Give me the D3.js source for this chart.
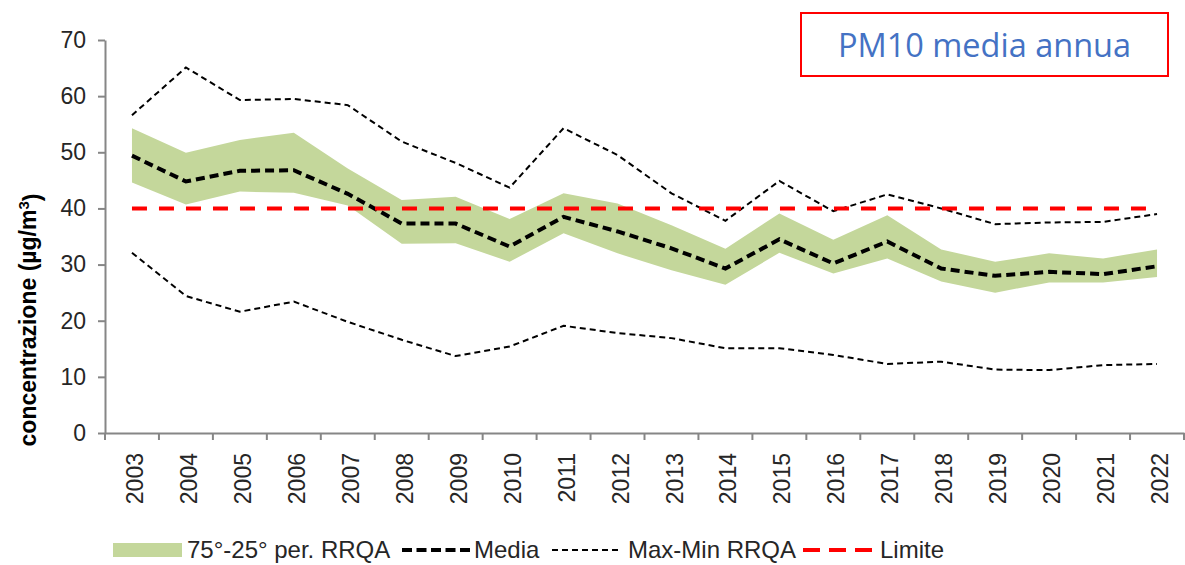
<!DOCTYPE html>
<html>
<head>
<meta charset="utf-8">
<script src="https://cdn.jsdelivr.net/npm/d3@7"></script>
<style>
  html, body { margin: 0; padding: 0; background: #fff; }
  svg { display: block; }
</style>
</head>
<body>
<svg id="chart" width="1185" height="565"></svg>
<script>
// ---- data ----
const years = ["2003","2004","2005","2006","2007","2008","2009","2010","2011","2012",
               "2013","2014","2015","2016","2017","2018","2019","2020","2021","2022"];
const maxRRQA = [56.6, 65.1, 59.3, 59.5, 58.4, 51.9, 48.1, 43.7, 54.3, 49.5,
                 42.7, 37.8, 44.9, 39.5, 42.5, 40.0, 37.2, 37.5, 37.6, 39.0];
const minRRQA = [32.1, 24.4, 21.6, 23.4, 19.8, 16.6, 13.7, 15.4, 19.1, 17.8,
                 16.9, 15.1, 15.1, 13.9, 12.3, 12.7, 11.3, 11.2, 12.1, 12.3];
const p75 = [54.3, 49.9, 52.2, 53.5, 47.1, 41.5, 42.1, 38.1, 42.7, 40.9,
             37.0, 32.8, 39.1, 34.4, 38.8, 32.7, 30.5, 32.0, 31.1, 32.7];
const media = [49.4, 44.8, 46.7, 46.8, 42.6, 37.3, 37.3, 33.2, 38.5, 35.9,
               32.9, 29.3, 34.5, 30.2, 34.1, 29.3, 28.0, 28.7, 28.3, 29.7];
const p25 = [44.6, 40.7, 43.0, 42.8, 40.5, 33.7, 33.8, 30.5, 35.6, 32.0,
             29.0, 26.4, 32.1, 28.4, 31.1, 27.0, 25.0, 26.8, 26.8, 27.8];
const limite = 40;
const yTicks = [0, 10, 20, 30, 40, 50, 60, 70];
const titleText = "PM10 media annua";
const yLabel = "concentrazione (µg/m";
const legendLabels = ["75°-25° per. RRQA", "Media", "Max-Min RRQA", "Limite"];

// ---- layout ----
const svg = d3.select("#chart");
const plotL = 105, plotR = 1184, plotT = 40, plotB = 433;
const axisColor = "#868686";
const textColor = "#262626";

const x = d3.scaleBand().domain(years).range([plotL, plotR]).padding(0);
const cx = d => x(d) + x.bandwidth() / 2;
const y = d3.scaleLinear().domain([0, 70]).range([plotB, plotT]);

const rows = years.map((yr, i) => ({yr, max: maxRRQA[i], min: minRRQA[i], p75: p75[i], p25: p25[i], media: media[i]}));

// band
svg.append("path")
  .datum(rows)
  .attr("d", d3.area().x(d => cx(d.yr)).y0(d => y(d.p25)).y1(d => y(d.p75)))
  .attr("fill", "#C4D79B");

// y axis
const yAxis = svg.append("g")
  .attr("transform", `translate(${plotL},0)`)
  .call(d3.axisLeft(y).tickValues(yTicks).tickSize(7).tickSizeOuter(0).tickPadding(12));
yAxis.select(".domain").attr("stroke", axisColor).attr("stroke-width", 2);
yAxis.selectAll(".tick line").attr("stroke", axisColor).attr("stroke-width", 2);
yAxis.selectAll(".tick text")
  .attr("fill", textColor)
  .style("font-family", "'Liberation Sans', Arial, sans-serif")
  .style("font-size", "23px");

// x axis
const xAxis = svg.append("g")
  .attr("transform", `translate(0,${plotB})`)
  .call(d3.axisBottom(x).tickSize(0).tickSizeOuter(0).tickPadding(0));
xAxis.select(".domain").attr("stroke", axisColor).attr("stroke-width", 2);
xAxis.selectAll(".tick text")
  .attr("fill", textColor)
  .style("font-family", "'Liberation Sans', Arial, sans-serif")
  .style("font-size", "23px")
  .attr("text-anchor", "end")
  .attr("transform", "translate(3,20) rotate(-90)")
  .attr("x", 0).attr("y", 0).attr("dy", "0.35em");
// boundary tick marks
const bounds = years.map(d => x(d)).concat([x.range()[1]]);
xAxis.selectAll("line.bnd").data(bounds).enter().append("line")
  .attr("class", "bnd")
  .attr("x1", d => d).attr("x2", d => d)
  .attr("y1", 0).attr("y2", 7)
  .attr("stroke", axisColor).attr("stroke-width", 2);

// lines
const lineOf = key => d3.line().x(d => cx(d.yr)).y(d => y(d[key]));
svg.append("path").datum(rows).attr("d", lineOf("max"))
  .attr("fill", "none").attr("stroke", "#000").attr("stroke-width", 2).attr("stroke-dasharray", "6,4");
svg.append("path").datum(rows).attr("d", lineOf("min"))
  .attr("fill", "none").attr("stroke", "#000").attr("stroke-width", 2).attr("stroke-dasharray", "6,4");
svg.append("path").datum(rows).attr("d", lineOf("media"))
  .attr("fill", "none").attr("stroke", "#000").attr("stroke-width", 4).attr("stroke-dasharray", "9,5");
svg.append("line")
  .attr("x1", cx(years[0])).attr("x2", cx(years[years.length - 1]))
  .attr("y1", y(limite)).attr("y2", y(limite))
  .attr("stroke", "#FF0000").attr("stroke-width", 4).attr("stroke-dasharray", "15,12");

// y label
const yl = svg.append("text")
  .attr("transform", "translate(36,320) rotate(-90)")
  .attr("text-anchor", "middle")
  .attr("fill", "#000")
  .style("font-family", "'Liberation Sans', Arial, sans-serif")
  .style("font-size", "23px")
  .style("font-weight", "bold");
yl.append("tspan").text(yLabel);
yl.append("tspan").attr("dy", "-0.5em").style("font-size", "15px").text("3");
yl.append("tspan").attr("dy", "0.5em").text(")");

// title box
svg.append("rect").attr("x", 801).attr("y", 13).attr("width", 367).attr("height", 63)
  .attr("fill", "#fff").attr("stroke", "#FF0000").attr("stroke-width", 2);
svg.append("text").attr("x", 984.5).attr("y", 57).attr("text-anchor", "middle")
  .attr("fill", "#4472C4")
  .style("font-family", "'Open Sans', sans-serif").style("font-size", "32.5px")
  .text(titleText);

// legend
const lg = svg.append("g");
const ly = 550;
const lfont = sel => sel.attr("fill", "#262626")
  .style("font-family", "'Liberation Sans', Arial, sans-serif").style("font-size", "24px");
lg.append("rect").attr("x", 113).attr("y", 543).attr("width", 69).attr("height", 14).attr("fill", "#C4D79B");
lg.append("text").attr("x", 187).attr("y", 558).text(legendLabels[0]).call(lfont);
lg.append("line").attr("x1", 402).attr("x2", 470).attr("y1", ly).attr("y2", ly)
  .attr("stroke", "#000").attr("stroke-width", 4).attr("stroke-dasharray", "10,4.5");
lg.append("text").attr("x", 474).attr("y", 558).text(legendLabels[1]).call(lfont);
lg.append("line").attr("x1", 552).attr("x2", 620).attr("y1", ly).attr("y2", ly)
  .attr("stroke", "#000").attr("stroke-width", 2).attr("stroke-dasharray", "6,4");
lg.append("text").attr("x", 628).attr("y", 558).text(legendLabels[2]).call(lfont);
lg.append("line").attr("x1", 803).attr("x2", 872).attr("y1", ly).attr("y2", ly)
  .attr("stroke", "#FF0000").attr("stroke-width", 4).attr("stroke-dasharray", "17,9");
lg.append("text").attr("x", 880).attr("y", 558).text(legendLabels[3]).call(lfont);
</script>
</body>
</html>
